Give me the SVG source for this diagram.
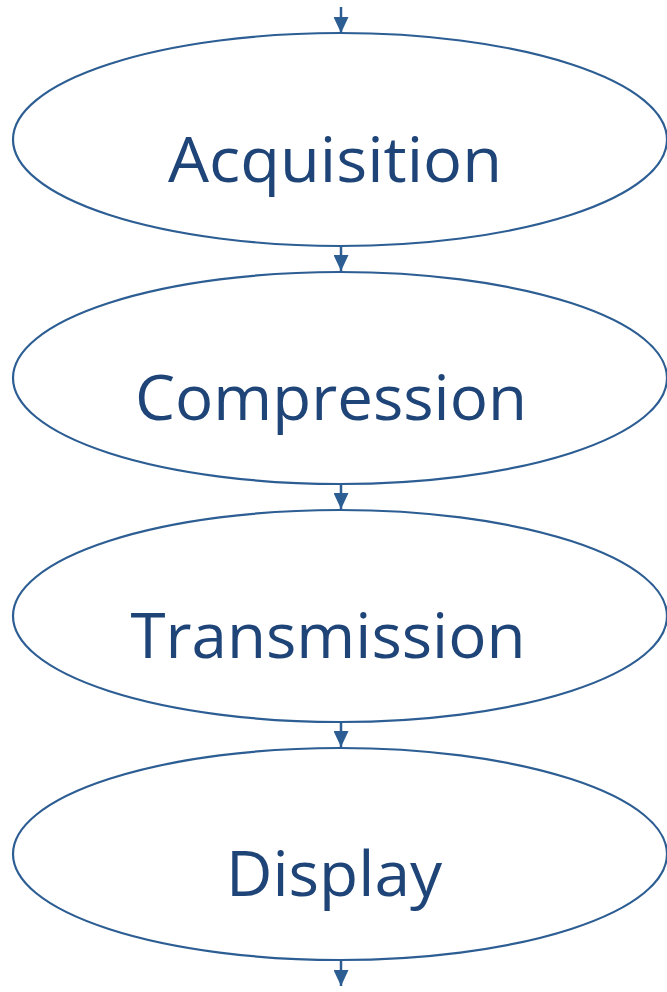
<svg xmlns="http://www.w3.org/2000/svg" width="667" height="992" viewBox="0 0 667 992">
<style>
.n{fill:#ffffff;stroke:#2c5d93;stroke-width:2.2}
.t{font-family:"Open Sans","Noto Sans",sans-serif;font-size:62px;fill:#1f4578;text-anchor:middle}
.c{stroke:#2c5d93;stroke-width:2.5;fill:none}
</style>
<defs>
<marker id="ah" viewBox="0 0 16 15" refX="16" refY="7.5" markerWidth="16" markerHeight="15" markerUnits="userSpaceOnUse" orient="auto">
<path d="M0,0 L16,7.5 L0,15 Z" fill="#2c5d93"/>
</marker>
</defs>
<g id="connectors">
<line class="c" x1="341" y1="7" x2="341" y2="33" marker-end="url(#ah)"/>
<line class="c" x1="341" y1="246" x2="341" y2="271" marker-end="url(#ah)"/>
<line class="c" x1="341" y1="484" x2="341" y2="509" marker-end="url(#ah)"/>
<line class="c" x1="341" y1="722" x2="341" y2="747" marker-end="url(#ah)"/>
<line class="c" x1="341" y1="960" x2="341" y2="986" marker-end="url(#ah)"/>
</g>
<g id="acquisition">
<ellipse class="n" cx="340" cy="139.5" rx="327" ry="106.5"/>
<text class="t" x="335" y="182" textLength="334" lengthAdjust="spacingAndGlyphs">Acquisition</text>
</g>
<g id="compression">
<ellipse class="n" cx="340" cy="378" rx="327" ry="106"/>
<text class="t" x="331" y="420" textLength="392" lengthAdjust="spacingAndGlyphs">Compression</text>
</g>
<g id="transmission">
<ellipse class="n" cx="340" cy="616" rx="327" ry="106"/>
<text class="t" x="328" y="658" textLength="395" lengthAdjust="spacingAndGlyphs">Transmission</text>
</g>
<g id="display">
<ellipse class="n" cx="340" cy="854" rx="327" ry="106"/>
<text class="t" x="334" y="896" textLength="216" lengthAdjust="spacingAndGlyphs">Display</text>
</g>
</svg>
